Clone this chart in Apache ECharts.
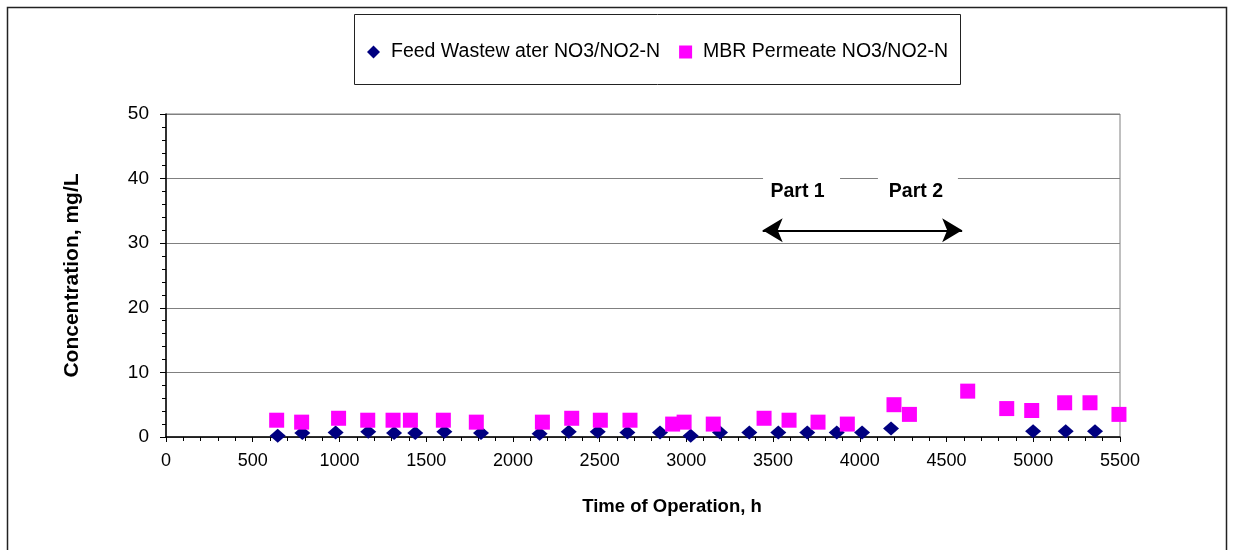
<!DOCTYPE html>
<html>
<head>
<meta charset="utf-8">
<script src="https://cdn.jsdelivr.net/npm/echarts@6/dist/echarts.min.js"></script>
<style>
html,body{margin:0;padding:0;background:#fff;}
#chart{width:1235px;height:550px;}
</style>
</head>
<body>
<div id="chart"></div>
<script>
// Feed wastewater NO3/NO2-N (time h, concentration mg/L)
const feedTime = [644, 786, 978, 1166, 1315, 1437, 1605, 1816, 2154, 2322, 2489, 2660, 2848, 3025, 3194, 3363, 3530, 3697, 3867, 4013, 4180, 4999, 5187, 5356];
const feedConc = [0.2, 0.6, 0.7, 0.8, 0.6, 0.6, 0.8, 0.6, 0.5, 0.8, 0.8, 0.7, 0.7, 0.2, 0.7, 0.7, 0.7, 0.7, 0.7, 0.7, 1.3, 0.9, 0.9, 0.9];
// MBR permeate NO3/NO2-N
const permTime = [638, 782, 995, 1163, 1309, 1409, 1599, 1789, 2170, 2339, 2504, 2675, 2921, 2987, 3155, 3448, 3592, 3759, 3928, 4197, 4286, 4622, 4847, 4991, 5181, 5327, 5494];
const permConc = [2.6, 2.3, 2.9, 2.6, 2.6, 2.6, 2.6, 2.3, 2.3, 2.9, 2.6, 2.6, 2.0, 2.3, 2.0, 2.9, 2.6, 2.3, 2.0, 5.0, 3.5, 7.1, 4.4, 4.1, 5.3, 5.3, 3.5];
const xTicks = [0, 500, 1000, 1500, 2000, 2500, 3000, 3500, 4000, 4500, 5000, 5500];
const yTicks = [0, 10, 20, 30, 40, 50];
const seriesNames = ['Feed Wastew ater NO3/NO2-N', 'MBR Permeate NO3/NO2-N'];
const partSplit = 4000;
const partLabels = ['Part 1', 'Part 2'];

const FONT = '"Liberation Sans", Arial, sans-serif';
const chart = echarts.init(document.getElementById('chart'), null, {renderer: 'canvas'});

const feedData = feedTime.map((t, i) => [t, feedConc[i]]);
const permData = permTime.map((t, i) => [t, permConc[i]]);

chart.setOption({
  animation: false,
  backgroundColor: '#fff',
  graphic: [
    {type: 'rect', shape: {x: 7.5, y: 7.5, width: 1219, height: 600}, style: {fill: 'none', stroke: '#222', lineWidth: 1.5}, z: -1},
    {type: 'rect', shape: {x: 354.5, y: 14.5, width: 606, height: 70}, style: {fill: '#fff', stroke: '#222', lineWidth: 1}, z: 0}
  ],
  legend: {
    left: 362, top: 37,
    itemWidth: 13, itemHeight: 13, itemGap: 19,
    textStyle: {fontFamily: FONT, fontSize: 19.5, color: '#000', padding: [0, 0, 0, 6]},
    data: [
      {name: seriesNames[0], icon: 'diamond'},
      {name: seriesNames[1], icon: 'rect'}
    ],
    z: 5
  },
  grid: {left: 166, right: 115, top: 114, bottom: 113, show: true, borderColor: '#808080', borderWidth: 1, backgroundColor: 'transparent'},
  xAxis: {
    type: 'value', min: xTicks[0], max: xTicks[xTicks.length - 1], interval: 500,
    name: 'Time of Operation, h', nameLocation: 'middle', nameGap: 60,
    nameTextStyle: {fontFamily: FONT, fontSize: 18.5, fontWeight: 'bold', color: '#000', padding: [0, 0, 0, 58]},
    axisLine: {lineStyle: {color: '#000', width: 1.5}},
    axisTick: {show: true, inside: false, length: 5, lineStyle: {color: '#000'}},
    minorTick: {show: true, splitNumber: 5, length: 4, lineStyle: {color: '#000'}},
    axisLabel: {fontFamily: FONT, fontSize: 18, color: '#000', margin: 15, formatter: v => String(v)},
    splitLine: {show: false}
  },
  yAxis: {
    type: 'value', min: yTicks[0], max: yTicks[yTicks.length - 1], interval: 10,
    name: 'Concentration, mg/L', nameLocation: 'middle', nameGap: 83,
    nameTextStyle: {fontFamily: FONT, fontSize: 21, fontWeight: 'bold', color: '#000'},
    axisLine: {show: true, lineStyle: {color: '#000', width: 1.5}},
    axisTick: {show: true, inside: false, length: 6, lineStyle: {color: '#000'}},
    minorTick: {show: true, splitNumber: 5, length: 4, lineStyle: {color: '#000'}},
    axisLabel: {fontFamily: FONT, fontSize: 19, color: '#000', margin: 17, formatter: v => String(v)},
    splitLine: {show: true, lineStyle: {color: '#808080', width: 1}}
  },
  series: [
    {
      name: seriesNames[0], type: 'scatter', data: feedData,
      symbol: 'diamond', symbolSize: [16, 14],
      itemStyle: {color: '#000080', opacity: 1},
      z: 3,
      markLine: {
        silent: true, symbol: 'none',
        label: {show: false},
        lineStyle: {color: '#0000FF', width: 3, type: [9, 6]},
        data: [[{coord: [partSplit, 0]}, {coord: [partSplit, 50.9]}]]
      }
    },
    {
      name: seriesNames[1], type: 'scatter', data: permData,
      symbol: 'rect', symbolSize: 15,
      itemStyle: {color: '#FF00FF', opacity: 1},
      z: 4,
      markLine: {
        silent: true, symbol: ['arrow', 'arrow'], symbolSize: [18, 20],
        label: {show: false},
        lineStyle: {color: '#000', width: 2, type: 'solid'},
        data: [[{coord: [3440, 32]}, {coord: [4590, 32]}]]
      },
      markPoint: {
        silent: true,
        symbol: 'rect',
        itemStyle: {color: '#fff'},
        label: {show: true, position: 'inside', fontFamily: FONT, fontSize: 19.5, fontWeight: 'bold', color: '#000'},
        data: [
          {coord: [3664, 38.4], symbolSize: [77, 34], value: partLabels[0], label: {formatter: partLabels[0], offset: [-4, 3]}},
          {coord: [4335, 38.4], symbolSize: [80, 34], value: partLabels[1], label: {formatter: partLabels[1], offset: [-2, 3]}}
        ]
      }
    }
  ]
});
</script>
</body>
</html>
